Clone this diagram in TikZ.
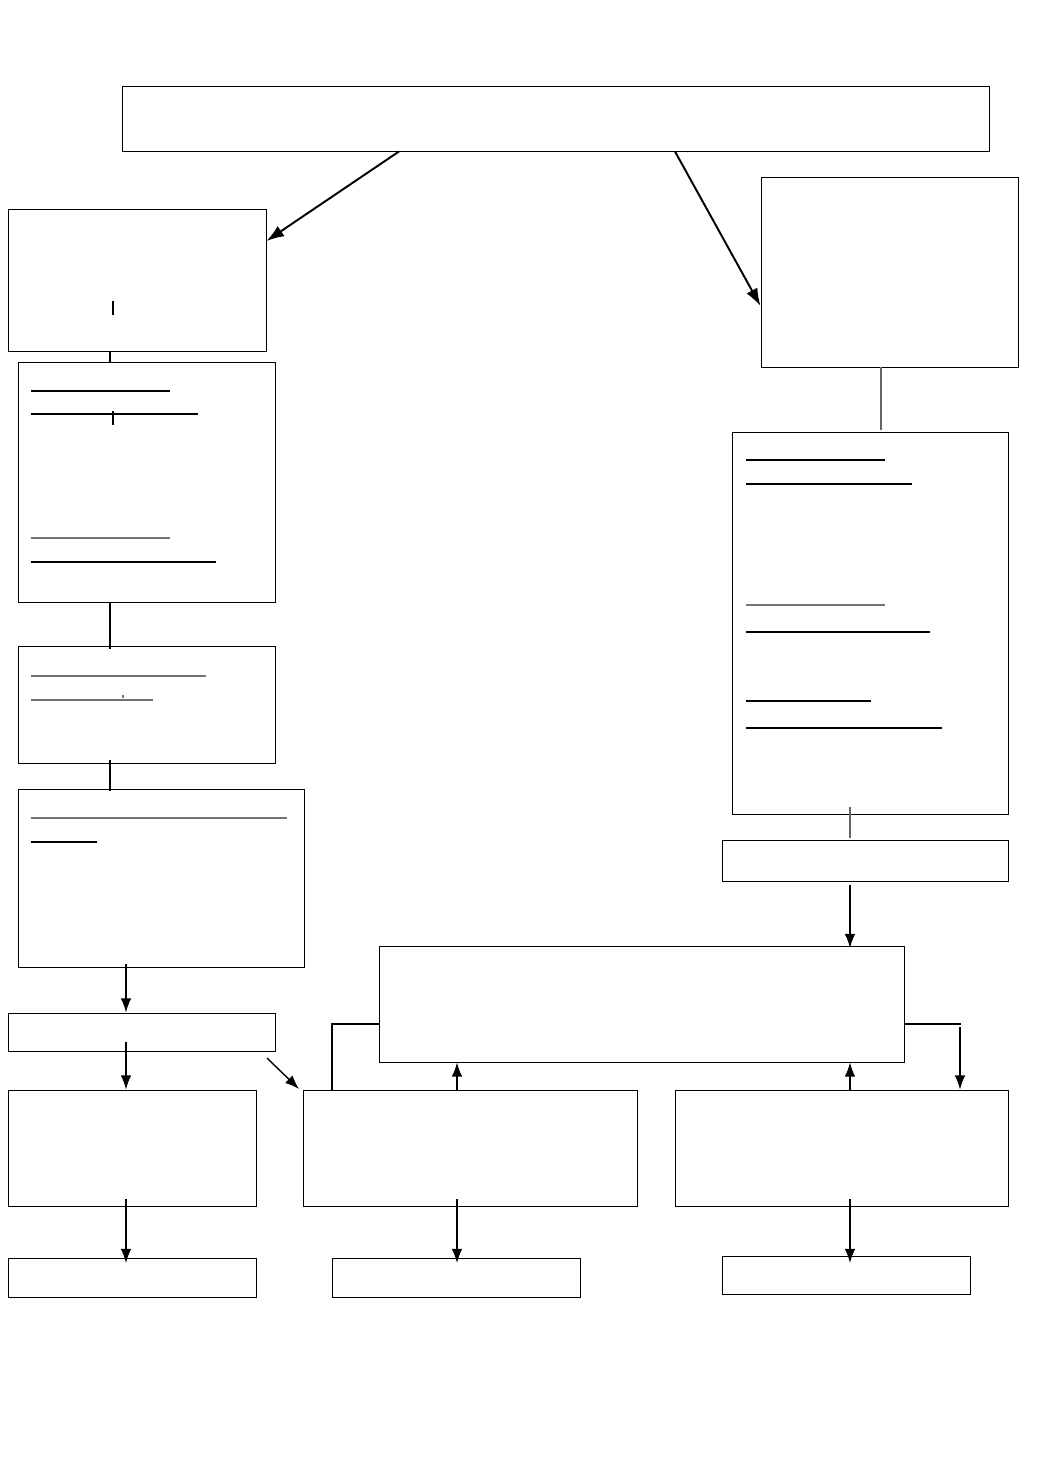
\documentclass[tikz,border=0pt]{standalone}
\usetikzlibrary{arrows.meta,fit}
\begin{document}
\begin{tikzpicture}[x=0.02cm,y=-0.02cm,
  box/.style={draw,line width=0.55pt,inner sep=0pt,fit={#1}},
  arr/.style={line width=0.8pt,-{Latex[length=8pt,width=6pt]}},
  ln/.style={line width=0.6pt},
  ul/.style={line width=0.6pt},
  ulg/.style={line width=0.9pt,black!55}]
\useasboundingbox (0,0) rectangle (1040,1471);
% boxes
\node[box={(122,86)(989,151)}] (top) {};
\node[box={(8,209)(266,351)}] (L1) {};
\node[box={(18,362)(275,602)}] (L2) {};
\node[box={(18,646)(275,763)}] (L3) {};
\node[box={(18,789)(304,967)}] (L4) {};
\node[box={(8,1013)(275,1051)}] (L5) {};
\node[box={(8,1090)(256,1206)}] (L6) {};
\node[box={(8,1258)(256,1297)}] (L7) {};
\node[box={(761,177)(1018,367)}] (R1) {};
\node[box={(732,432)(1008,814)}] (R2) {};
\node[box={(722,840)(1008,881)}] (R3) {};
\node[box={(379,946)(904,1062)}] (C) {};
\node[box={(303,1090)(637,1206)}] (M) {};
\node[box={(332,1258)(580,1297)}] (M2) {};
\node[box={(675,1090)(1008,1206)}] (RR) {};
\node[box={(722,1256)(970,1294)}] (RR2) {};
% underlines
\draw[ul] (31,391) -- (170,391);
\draw[ul] (31,414) -- (198,414);
\draw[ulg] (31,538) -- (170,538);
\draw[ul] (31,562) -- (216,562);
\draw[ulg] (31,676) -- (206,676);
\draw[ulg] (31,700) -- (153,700);
\draw[ulg] (123,695) -- (123,698);
\draw[ulg] (31,818) -- (287,818);
\draw[ul] (31,842) -- (97,842);
\draw[ul] (746,460) -- (885,460);
\draw[ul] (746,484) -- (912,484);
\draw[ulg] (746,605) -- (885,605);
\draw[ul] (746,632) -- (930,632);
\draw[ul] (746,701) -- (871,701);
\draw[ul] (746,728) -- (942,728);
% small ticks
\draw[ln] (113,301) -- (113,315);
\draw[ln] (113,411) -- (113,425);
% connectors
\draw[arr,line width=1.1pt,-{Latex[length=10pt,width=7pt]}] (top.south -| 399,0) -- (L1.east |- 0,241);
\draw[arr,line width=1.1pt,-{Latex[length=10pt,width=7pt]}] (top.south -| 675,0) -- (R1.west |- 0,306);
\draw[ln] (L1.south -| 110,0) -- (L2.north -| 110,0);
\draw[ln] (L2.south -| 110,0) -- (110,649);
\draw[ln] (110,760) -- (110,791);
\draw[arr] (126,964) -- (L5.north -| 126,0);
\draw[arr] (126,1042) -- (L6.north -| 126,0);
\draw[arr] (267,1058) -- (299,1089);
\draw[arr] (126,1199) -- (126,1263);
\draw[ln,black!60] (R1.south -| 881,0) -- (881,430);
\draw[ln,black!60] (850,807) -- (850,838);
\draw[arr] (850,885) -- (850,948);
\draw[arr] (M.north -| 457,0) -- (C.south -| 457,0);
\draw[arr] (RR.north -| 850,0) -- (C.south -| 850,0);
\draw[ln] (C.west |- 0,1024) -- (332,1024) -- (M.north -| 332,0);
\draw[ln] (C.east |- 0,1024) -- (961,1024);
\draw[arr] (960,1027) -- (RR.north -| 960,0);
\draw[arr] (457,1199) -- (457,1263);
\draw[arr] (850,1199) -- (850,1263);
\end{tikzpicture}
\end{document}
